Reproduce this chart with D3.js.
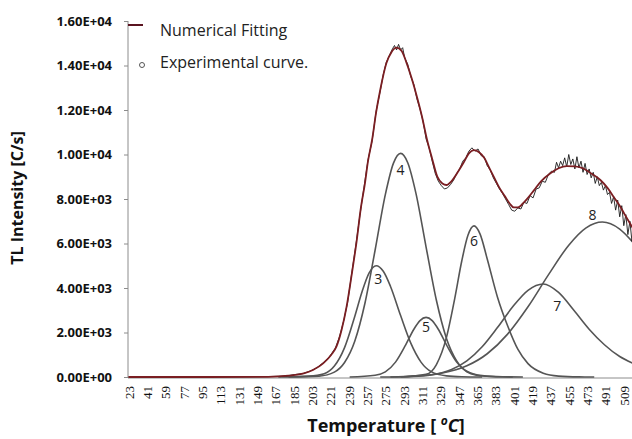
<!DOCTYPE html>
<html>
<head>
<meta charset="utf-8">
<script src="https://cdn.jsdelivr.net/npm/d3@7"></script>
<style>
    body { margin: 0; background: #fff; }
    svg { display: block; }
</style>
</head>
<body>
<div id="chart"></div>
<script>
// temperature categories shown on the x axis
const tickTemps = [23, 41, 59, 77, 95, 113, 131, 149, 167, 185, 203, 221, 239, 257,
    275, 293, 311, 329, 347, 365, 383, 401, 419, 437, 455, 473, 491, 509];
const yTicks = [0, 2000, 4000, 6000, 8000, 10000, 12000, 14000, 16000];

// deconvoluted glow peaks, [temperature, intensity]
const peak3 = [[170, 0], [200, 40], [215, 150], [225, 490], [235, 1320], [245, 2720], [252, 3810],
    [259, 4670], [266, 5000], [273, 4750], [280, 4080], [290, 2760], [300, 1520], [310, 670],
    [320, 240], [335, 50], [350, 10], [370, 0]];
const peak4 = [[180, 0], [210, 40], [225, 219], [235, 649], [245, 1606], [255, 3314], [265, 5707],
    [275, 8197], [283, 9614], [290, 10050], [297, 9632], [305, 8267], [315, 5841], [325, 3472],
    [335, 1733], [345, 728], [355, 257], [370, 60], [390, 10], [410, 0]];
const peak5 = [[240, 0], [265, 80], [275, 227], [285, 668], [295, 1446], [303, 2146], [309, 2535],
    [315, 2680], [321, 2535], [327, 2146], [335, 1446], [345, 668], [355, 227], [365, 80],
    [380, 20], [400, 0]];
const peak6 = [[290, 0], [315, 117], [325, 550], [335, 1780], [343, 3500], [350, 5212], [356, 6356],
    [362, 6790], [368, 6423], [375, 5305], [385, 3600], [395, 2300], [405, 1250], [415, 600],
    [430, 170], [445, 41], [465, 5], [480, 0]];
const peak7 = [[280, 0], [300, 21], [320, 95], [340, 333], [355, 721], [370, 1357], [385, 2220],
    [400, 3154], [415, 3896], [430, 4180], [445, 3800], [460, 3000], [475, 2150], [490, 1450],
    [505, 920], [519, 600]];
const peak8 = [[270, 0], [300, 36], [330, 170], [355, 502], [375, 1045], [395, 1927], [415, 3155],
    [435, 4589], [455, 5925], [472, 6706], [488, 6966], [505, 6650], [519, 6000]];
const peaks = [peak3, peak4, peak5, peak6, peak7, peak8];
const peakNames = ["3", "4", "5", "6", "7", "8"];

// numerical fitting curve
const fitCurve = [[23, 0], [100, 0], [160, 10], [180, 60], [195, 160], [204, 315], [214, 614],
    [222, 1000], [227, 1362], [232, 2100], [237, 3159], [242, 4600], [247, 6157], [251, 7600],
    [255, 8705], [258, 9700], [262, 10651], [266, 11900], [270, 12898], [276, 14098], [281, 14600],
    [286, 14800], [291, 14650], [296, 14098], [301, 13400], [306, 12597], [311, 11700], [316, 10651],
    [321, 9800], [326, 9002], [331, 8700], [335, 8629], [340, 8800], [346, 9200], [352, 9650],
    [357, 10050], [362, 10200], [367, 10100], [372, 9850], [377, 9400], [382, 8950], [387, 8500],
    [392, 8150], [397, 7800], [401, 7620], [405, 7620], [410, 7800], [415, 8050], [421, 8400],
    [428, 8800], [437, 9154], [445, 9380], [453, 9482], [461, 9470], [469, 9379], [477, 9150],
    [486, 8853], [493, 8500], [499, 8103], [505, 7700], [510, 7300], [515, 6907], [519, 6600]];

// measured TL glow curve
const expCurve = [[23, 0], [100, 0], [150, 10], [170, 30], [178, 50], [186, 110], [194, 150],
    [202, 280], [208, 420], [214, 640], [220, 900], [226, 1300], [230, 1800], [234, 2500],
    [238, 3350], [242, 4650], [246, 5900], [250, 7250], [254, 8500], [258, 9750], [262, 10600],
    [266, 11950], [270, 12850], [273, 13600], [276, 14150], [279, 14450], [282, 14750], [284, 14900],
    [286, 14700], [288, 14950], [290, 14700], [292, 14800], [294, 14350], [297, 14050], [300, 13500],
    [303, 13150], [306, 12500], [309, 12050], [312, 11500], [315, 10700], [318, 10300], [321, 9700],
    [324, 9150], [327, 8800], [330, 8600], [333, 8450], [336, 8500], [339, 8650], [342, 8850],
    [345, 9150], [348, 9350], [351, 9700], [354, 9850], [357, 10150], [360, 10300], [363, 10150],
    [366, 10250], [369, 9950], [372, 9900], [375, 9500], [378, 9300], [381, 8950], [384, 8700],
    [387, 8450], [390, 8250], [393, 8000], [396, 7750], [399, 7500], [402, 7450], [405, 7600],
    [408, 7550], [411, 7850], [414, 7800], [417, 8150], [420, 8050], [423, 8450], [426, 8500],
    [429, 8800], [432, 8750], [435, 9100], [438, 9250], [441, 9200], [443, 9650], [445, 9400],
    [447, 9700], [449, 9500], [451, 9850], [453, 9450], [455, 10000], [457, 9550], [459, 9800],
    [461, 9350], [463, 9900], [465, 9400], [467, 9700], [469, 9200], [471, 9600], [473, 9100],
    [475, 9350], [477, 8950], [479, 9200], [481, 8700], [483, 9000], [485, 8600], [487, 8750],
    [489, 8400], [491, 8600], [493, 8200], [495, 8300], [497, 7800], [499, 8100], [501, 7500],
    [503, 7950], [505, 7200], [507, 7700], [509, 6800], [511, 7300], [513, 6400], [515, 7000],
    [517, 6100], [519, 6600]];

const W = 632, H = 439;
const plot = { left: 128, top: 21, bottom: 377, right: 635 };

const svg = d3.select("#chart").append("svg")
    .attr("width", W)
    .attr("height", H);

const x = d3.scaleLinear().domain([22.5, 520]).range([plot.left, plot.right]);
const y = d3.scaleLinear().domain([0, 16000]).range([plot.bottom, plot.top]);

// Excel style 1.60E+04
function sci(v) {
    const [m, e] = v.toExponential(2).split("e");
    const n = +e;
    return `${m}E${n < 0 ? "-" : "+"}${String(Math.abs(n)).padStart(2, "0")}`;
}

const yAxis = svg.append("g")
    .attr("transform", `translate(${plot.left},0)`)
    .call(d3.axisLeft(y).tickValues(yTicks).tickSize(4).tickPadding(12).tickFormat(sci));
yAxis.select(".domain").remove();
yAxis.selectAll(".tick line").attr("stroke", "#8c8c8c");
yAxis.selectAll("text")
    .attr("font-family", "'Open Sans', sans-serif")
    .attr("font-weight", "bold")
    .attr("font-size", 13)
    .attr("fill", "#111");

const xAxis = svg.append("g")
    .attr("transform", `translate(0,${plot.bottom})`)
    .call(d3.axisBottom(x).tickValues(tickTemps).tickSize(0).tickPadding(0));
xAxis.select(".domain").remove();
xAxis.selectAll("text")
    .attr("font-family", "'Liberation Serif', serif")
    .attr("font-size", 13)
    .attr("fill", "#111")
    .attr("text-anchor", "end")
    .attr("dy", null)
    .attr("transform", "translate(4.5,9) rotate(-90)");

svg.append("line")
    .attr("x1", plot.left).attr("x2", plot.left)
    .attr("y1", plot.top).attr("y2", plot.bottom + 1)
    .attr("stroke", "#8c8c8c");
svg.append("line")
    .attr("x1", plot.left).attr("x2", W)
    .attr("y1", plot.bottom + 1).attr("y2", plot.bottom + 1)
    .attr("stroke", "#8c8c8c");

const line = d3.line()
    .x(d => x(d[0]))
    .y(d => y(d[1]))
    .curve(d3.curveMonotoneX);

svg.append("g").selectAll("path")
    .data(peaks)
    .join("path")
    .attr("d", line)
    .attr("fill", "none")
    .attr("stroke", "#555")
    .attr("stroke-width", 1.6);

svg.append("path")
    .attr("d", d3.line().x(d => x(d[0])).y(d => y(d[1]))(expCurve))
    .attr("fill", "none")
    .attr("stroke", "#1a1a1a")
    .attr("stroke-width", 0.9);

svg.append("path")
    .attr("d", line(fitCurve))
    .attr("fill", "none")
    .attr("stroke", "#7a1e22")
    .attr("stroke-width", 1.8);

// peak numbers sit just below each maximum
const labelShift = [[2, 18], [0, 22], [0, 15], [0, 20], [14, 27], [-10, -2]];
peaks.forEach((pk, i) => {
    const top = pk.reduce((a, b) => (b[1] > a[1] ? b : a));
    svg.append("text")
        .attr("x", x(top[0]) + labelShift[i][0])
        .attr("y", y(top[1]) + labelShift[i][1])
        .attr("text-anchor", "middle")
        .attr("font-family", "'Open Sans', sans-serif")
        .attr("font-size", 14)
        .attr("fill", "#222")
        .text(peakNames[i]);
});

// legend
const legend = svg.append("g").attr("font-family", "'Open Sans', sans-serif").attr("font-size", 16).attr("fill", "#222");
legend.append("line")
    .attr("x1", 128).attr("x2", 143).attr("y1", 25).attr("y2", 25)
    .attr("stroke", "#5a1420").attr("stroke-width", 2);
legend.append("text").attr("x", 160).attr("y", 36).text("Numerical Fitting");
legend.append("circle")
    .attr("cx", 142).attr("cy", 65).attr("r", 2.5)
    .attr("fill", "#fff").attr("stroke", "#555").attr("stroke-width", 1);
legend.append("text").attr("x", 160).attr("y", 68).text("Experimental curve.");

// axis titles
svg.append("text")
    .attr("transform", "translate(23,198) rotate(-90)")
    .attr("text-anchor", "middle")
    .attr("font-family", "'Open Sans', sans-serif")
    .attr("font-weight", "bold")
    .attr("font-size", 16)
    .attr("fill", "#111")
    .text("TL Intensity [C/s]");

const xt = svg.append("text")
    .attr("x", 386).attr("y", 432)
    .attr("text-anchor", "middle")
    .attr("font-family", "'Open Sans', sans-serif")
    .attr("font-weight", "bold")
    .attr("font-size", 18)
    .attr("fill", "#111");
xt.append("tspan").text("Temperature [ ");
xt.append("tspan").attr("font-style", "italic").attr("font-size", 12).attr("dy", -7).text("o");
xt.append("tspan").attr("font-style", "italic").attr("dy", 7).text("C");
xt.append("tspan").text("]");
</script>
</body>
</html>
